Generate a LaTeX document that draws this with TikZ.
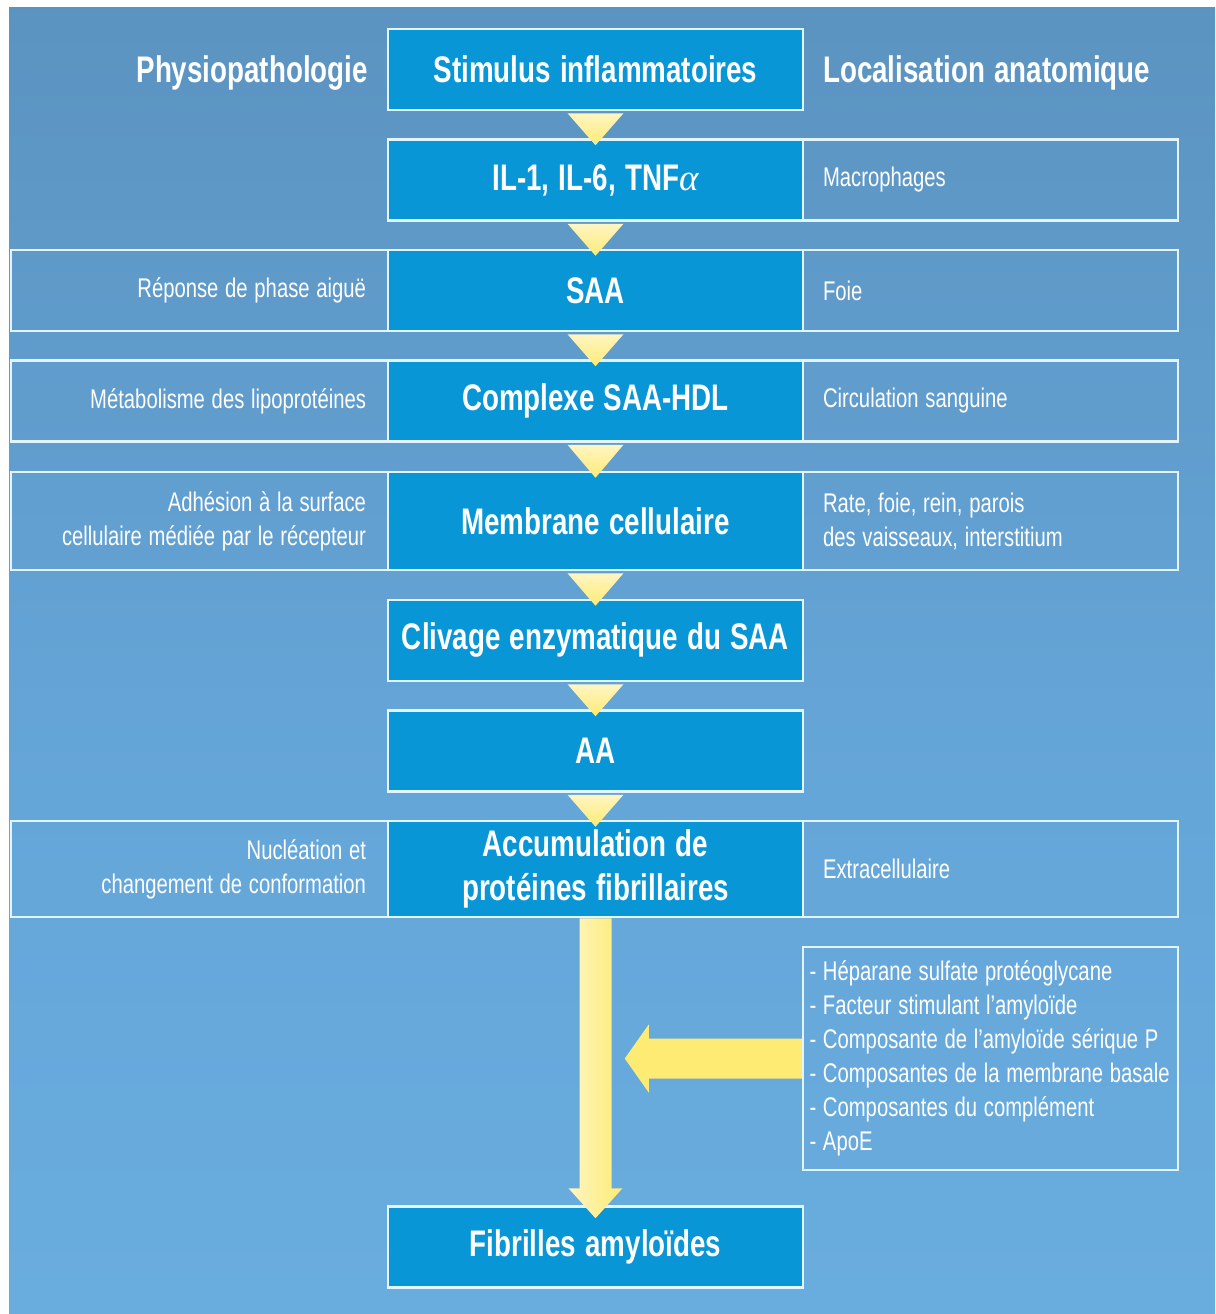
\documentclass[tikz,border=0pt]{standalone}
\usepackage{fontspec}
\setmainfont{Liberation Sans}
\newfontfamily\condfont[FakeStretch=0.75, WordSpace=1.2]{Liberation Sans}
\newfontfamily\greekfont{Liberation Serif}
\newcommand\boxfont{\condfont\bfseries\fontsize{37}{44}\selectfont}
\newcommand\notefont{\condfont\fontsize{27}{34}\selectfont}
\newcommand\alphasym{{\greekfont\mdseries\itshape α}}
\usepackage{tikz}
\definecolor{bgtop}{HTML}{5384AC}
\definecolor{bgmid}{HTML}{65A6D9}
\definecolor{bgbot}{HTML}{6EB4E4}
\definecolor{boxblue}{HTML}{0996D6}
\definecolor{edge}{HTML}{E2F5FF}
\definecolor{pale}{HTML}{FFF5C2}
\definecolor{gold}{HTML}{FDEB74}
\pgfdeclareverticalshading{bgshade}{100bp}{color(0bp)=(bgbot); color(45bp)=(bgmid); color(100bp)=(bgtop)}
\tikzset{
mainbox/.style={draw=edge, line width=2.5pt, fill=boxblue, text=white, font=\boxfont, align=center, inner sep=0pt, minimum width=415pt, minimum height=81pt},
leftbox/.style={draw=edge, line width=2.5pt, text=white, font=\notefont, align=flush right, inner xsep=22pt, inner ysep=0pt, text width=333pt, minimum height=81pt},
rightbox/.style={draw=edge, line width=2.5pt, text=white, font=\notefont, align=flush left, inner xsep=20pt, inner ysep=0pt, text width=335pt, minimum height=81pt},
head/.style={text=white, font=\boxfont, inner sep=0pt},
tri/.style={top color=pale, bottom color=gold},
fatarrow/.style={left color=pale, right color=gold}
}
\begin{document}
\begin{tikzpicture}[x=1pt, y=-1pt]
\useasboundingbox (0,0) rectangle (1215,1314);
\fill[white] (0,0) rectangle (1215,1314);
\shade[shading=bgshade] (9,8) rectangle (1215,1314);
\node[head, anchor=base east] (physio) at (368,82) {Physiopathologie};
\node[head, anchor=base west] (loca) at (823,82) {Localisation anatomique};
\node[rightbox] (macro) at (990.5,180) {Macrophages};
\node[leftbox] (phase) at (199.5,290.5) {Réponse de phase aiguë};
\node[rightbox] (foie) at (990.5,290.5) {Foie};
\node[leftbox] (lipo) at (199.5,401) {Métabolisme des lipoprotéines};
\node[rightbox] (circ) at (990.5,401) {Circulation sanguine};
\node[leftbox, minimum height=98pt] (adh) at (199.5,521) {Adhésion à la surface\\cellulaire médiée par le récepteur};
\node[rightbox, minimum height=98pt] (organes) at (990.5,521) {Rate, foie, rein, parois\\des vaisseaux, interstitium};
\node[leftbox, minimum height=96pt] (nucl) at (199.5,869) {Nucléation et\\changement de conformation};
\node[rightbox, minimum height=96pt] (extra) at (990.5,869) {Extracellulaire};
\node[rightbox, minimum height=223pt, inner xsep=6.5pt, text width=362pt] (facteurs) at (990.5,1058.5) {- Héparane sulfate protéoglycane\\- Facteur stimulant l’amyloïde\\- Composante de l’amyloïde sérique P\\- Composantes de la membrane basale\\- Composantes du complément\\- ApoE};
\node[mainbox] (stim) at (595.5,69.5) {Stimulus inflammatoires};
\node[mainbox] (il) at (595.5,180) {IL-1, IL-6, TNF\alphasym};
\node[mainbox] (saa) at (595.5,290.5) {SAA};
\node[mainbox] (hdl) at (595.5,401) {Complexe SAA-HDL};
\node[mainbox, minimum height=98pt] (mem) at (595.5,521) {Membrane cellulaire};
\node[mainbox] (cliv) at (595.5,640.5) {Clivage enzymatique du SAA};
\node[mainbox] (aa) at (595.5,751) {AA};
\node[mainbox, minimum height=96pt] (acc) at (595.5,869) {Accumulation de\\protéines fibrillaires};
\node[mainbox] (fib) at (595.5,1247) {Fibrilles amyloïdes};
\shade[tri] ([xshift=-28pt,yshift=-2pt]stim.south) -- ([xshift=28pt,yshift=-2pt]stim.south) -- ([yshift=-7pt]il.north) -- cycle;
\shade[tri] ([xshift=-28pt,yshift=-2pt]il.south) -- ([xshift=28pt,yshift=-2pt]il.south) -- ([yshift=-7pt]saa.north) -- cycle;
\shade[tri] ([xshift=-28pt,yshift=-2pt]saa.south) -- ([xshift=28pt,yshift=-2pt]saa.south) -- ([yshift=-7pt]hdl.north) -- cycle;
\shade[tri] ([xshift=-28pt,yshift=-2pt]hdl.south) -- ([xshift=28pt,yshift=-2pt]hdl.south) -- ([yshift=-7pt]mem.north) -- cycle;
\shade[tri] ([xshift=-28pt,yshift=-2pt]mem.south) -- ([xshift=28pt,yshift=-2pt]mem.south) -- ([yshift=-7pt]cliv.north) -- cycle;
\shade[tri] ([xshift=-28pt,yshift=-2pt]cliv.south) -- ([xshift=28pt,yshift=-2pt]cliv.south) -- ([yshift=-7pt]aa.north) -- cycle;
\shade[tri] ([xshift=-28pt,yshift=-2pt]aa.south) -- ([xshift=28pt,yshift=-2pt]aa.south) -- ([yshift=-7pt]acc.north) -- cycle;
\shade[fatarrow] ([xshift=-16pt]acc.south) -- ([xshift=-16pt,yshift=17pt]fib.north) -- ([xshift=-27pt,yshift=17pt]fib.north) -- ([yshift=-13pt]fib.north) -- ([xshift=27pt,yshift=17pt]fib.north) -- ([xshift=16pt,yshift=17pt]fib.north) -- ([xshift=16pt]acc.south) -- cycle;
\fill[gold] ([yshift=20pt]facteurs.west) -- ([xshift=-153pt,yshift=20pt]facteurs.west) -- ([xshift=-153pt,yshift=34pt]facteurs.west) -- ([xshift=-177pt]facteurs.west) -- ([xshift=-153pt,yshift=-34pt]facteurs.west) -- ([xshift=-153pt,yshift=-20pt]facteurs.west) -- ([yshift=-20pt]facteurs.west) -- cycle;
\end{tikzpicture}
\end{document}
